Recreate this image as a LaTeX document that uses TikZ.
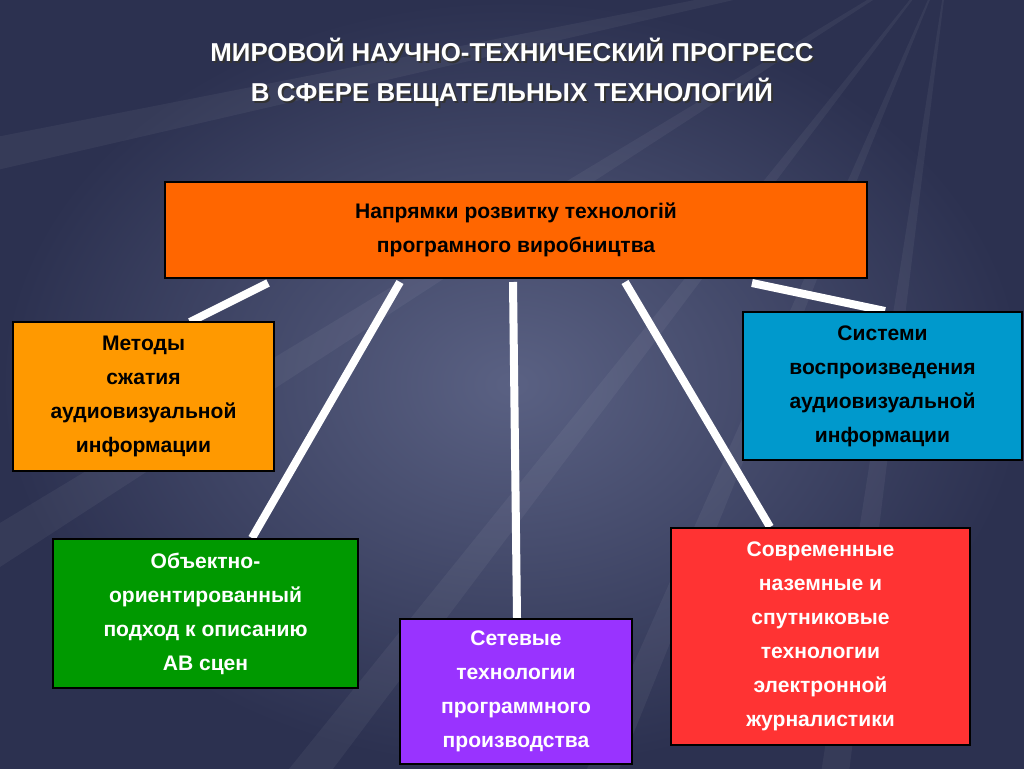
\documentclass[tikz,border=0pt]{standalone}
\usepackage{fontspec}
\setmainfont{Liberation Sans}
\begin{document}
\begin{tikzpicture}[x=0.75pt,y=-0.75pt,
  box/.style={draw=black,line width=2.2pt,align=center,font=\bfseries\fontsize{15.8}{25.5}\selectfont},
  con/.style={white,line width=6pt}]
\definecolor{bgA}{HTML}{5A6183}\definecolor{bgB}{HTML}{2C3150}
\useasboundingbox (0,0) rectangle (1024,768);
\begin{scope}
\clip (0,0) rectangle (1024,768);
\shade[inner color=bgA,outer color=bgB] (0,0) rectangle (1024,768);
\foreach \a in {100,115,130,150,170,200,215,235,260,285,310}{
  \fill[white,opacity=0.05] (950,-50) -- ++(\a-3:1800) -- ++(\a+93:60) -- cycle;}
\end{scope}
\node[black!80,align=center,font=\bfseries\fontsize{19.4}{30}\selectfont] at (514,74)
 {МИРОВОЙ НАУЧНО-ТЕХНИЧЕСКИЙ ПРОГРЕСС\\В СФЕРЕ ВЕЩАТЕЛЬНЫХ ТЕХНОЛОГИЙ};
\node[white,align=center,font=\bfseries\fontsize{19.4}{30}\selectfont] (title) at (512,72)
 {МИРОВОЙ НАУЧНО-ТЕХНИЧЕСКИЙ ПРОГРЕСС\\В СФЕРЕ ВЕЩАТЕЛЬНЫХ ТЕХНОЛОГИЙ};
\draw[con] (268,283) coordinate(c1) -- (190,322) coordinate(d1);
\draw[con] (400,282) -- (252,538);
\draw[con] (513,282) -- (517,618);
\draw[con] (625,282) -- (770,527);
\draw[con] (752,283) -- (885,311);
\node[box,fill={rgb,255:red,255;green,102;blue,0},minimum width=702*0.75pt,minimum height=96*0.75pt] (top) at (516,230)
 {Напрямки розвитку технологій\\програмного виробництва};
\node[box,fill={rgb,255:red,255;green,153;blue,0},minimum width=261*0.75pt,minimum height=149*0.75pt,inner sep=1pt] (m) at (143.5,396.5)
 {Методы\\сжатия\\аудиовизуальной\\информации};
\node[box,fill={rgb,255:red,0;green,153;blue,204},minimum width=279*0.75pt,minimum height=148*0.75pt,inner sep=1pt] (s) at (882.5,386)
 {Системи\\воспроизведения\\аудиовизуальной\\информации};
\node[box,text=white,fill={rgb,255:red,0;green,153;blue,0},minimum width=305*0.75pt,minimum height=149*0.75pt,inner sep=1pt] (o) at (205.5,613.5)
 {Объектно-\\ориентированный\\подход к описанию\\АВ сцен};
\node[box,text=white,fill={rgb,255:red,153;green,51;blue,255},minimum width=232*0.75pt,minimum height=145*0.75pt,inner sep=1pt] (n) at (516,691.5)
 {Сетевые\\технологии\\программного\\производства};
\node[box,text=white,fill={rgb,255:red,255;green,51;blue,51},minimum width=299*0.75pt,minimum height=217*0.75pt,inner sep=1pt] (r) at (820.5,636.5)
 {Современные\\наземные и\\спутниковые\\технологии\\электронной\\журналистики};
\end{tikzpicture}
\end{document}
